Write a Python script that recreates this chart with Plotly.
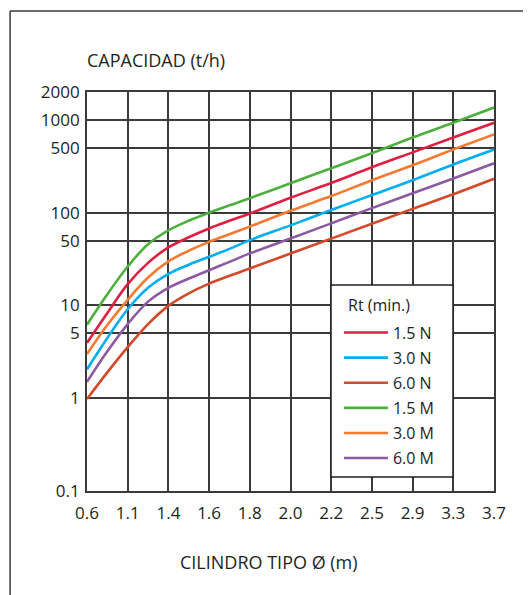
import plotly.graph_objects as go

# Cylinder type (m) tick categories, evenly spaced on the axis
categories = ["0.6", "1.1", "1.4", "1.6", "1.8", "2.0", "2.2", "2.5", "2.9", "3.3", "3.7"]
# sample positions along the category axis (category index; half steps in the curved part)
sample_pos = [0, 0.5, 1, 1.5, 2, 2.5, 3, 3.5, 4, 5, 6, 7, 8, 9, 10]

# Capacity (t/h)
cap_15N = [3.95, 8.3, 17, 28.8, 42.2, 54.3, 67.6, 81.7, 98, 145, 209, 309, 447, 646, 931]
cap_30N = [2.05, 4.47, 9.1, 15.5, 21.9, 27.5, 33.5, 40.7, 50.6, 73, 107, 155, 224, 331, 479]
cap_60N = [0.98, 1.9, 3.55, 6.3, 9.9, 13.5, 17.2, 20.9, 25, 36.4, 52.5, 76, 110, 158, 232]
cap_15M = [6.2, 13.2, 26.3, 45.7, 64.5, 82, 100, 120, 143, 208, 302, 437, 646, 933, 1360]
cap_30M = [3.0, 6.17, 11.5, 20, 29.9, 38.9, 48.5, 58.6, 70.8, 105, 151, 224, 324, 479, 697]
cap_60M = [1.5, 3.2, 6.3, 11, 15.5, 19.5, 24, 29.5, 36.4, 52.7, 76.7, 112, 162, 234, 341]

series_names = ["1.5 N", "3.0 N", "6.0 N", "1.5 M", "3.0 M", "6.0 M"]
series_vals = [cap_15N, cap_30N, cap_60N, cap_15M, cap_30M, cap_60M]
series_colors = ["#DF1F41", "#00AEEF", "#D24A2A", "#4DAF3D", "#F27A33", "#8D5AA2"]

y_ticks = [0.1, 1, 5, 10, 50, 100, 500, 1000, 2000]
y_ticktext = ["0.1", "1", "5", "10", "50", "100", "500", "1000", "2000"]

FONT = "Open Sans"
INK = "#231F20"
GRID = "#3a3a3a"

fig = go.Figure()
for name, vals, col in zip(series_names, series_vals, series_colors):
    fig.add_trace(go.Scatter(
        x=sample_pos, y=vals, name=name, mode="lines", legendgroup=name,
        line=dict(color=col, width=2.6, shape="spline", smoothing=1.0),
    ))

fig.update_layout(
    width=523, height=587,
    margin=dict(l=79, r=37, t=84, b=104),
    paper_bgcolor="white", plot_bgcolor="white",
    font=dict(family=FONT, size=16, color=INK),
    showlegend=True,
    legend=dict(
        x=0.619, y=0.4395, xanchor="left", yanchor="top",
        bgcolor="rgba(0,0,0,0)", borderwidth=0,
        font=dict(size=16), tracegroupgap=1.3, itemwidth=44,
    ),
    xaxis=dict(
        range=[0, 10], tickmode="array",
        tickvals=list(range(len(categories))), ticktext=categories,
        showgrid=True, gridcolor=GRID, gridwidth=1.5,
        showline=True, mirror=True, linecolor=GRID, linewidth=1.8,
        zeroline=False, ticks="", tickfont=dict(size=17), ticklabelstandoff=6,
    ),
    yaxis=dict(
        type="log", range=[-1, 3.30103], tickmode="array",
        tickvals=y_ticks, ticktext=y_ticktext,
        showgrid=True, gridcolor=GRID, gridwidth=1.5,
        showline=True, mirror=True, linecolor=GRID, linewidth=1.8,
        zeroline=False, ticks="", tickfont=dict(size=17), ticklabelstandoff=2,
    ),
    annotations=[
        dict(text="CAPACIDAD (t/h)", xref="paper", yref="paper",
             x=-0.005, y=1.08, xanchor="left", yanchor="middle",
             showarrow=False, font=dict(size=18)),
        dict(text="CILINDRO TIPO Ø (m)", xref="paper", yref="paper",
             x=0.447, y=-0.177, xanchor="center", yanchor="middle",
             showarrow=False, font=dict(size=18)),
        dict(text="Rt (min.)", xref="paper", yref="paper",
             x=(346 - 87) / 407, y=(491 - 305) / 399, xanchor="left", yanchor="middle",
             showarrow=False, font=dict(size=16)),
    ],
    shapes=[
        dict(type="rect", xref="paper", yref="paper", layer="above",
             x0=(331 - 87) / 407, x1=(453 - 87) / 407,
             y0=(491 - 477) / 399, y1=(491 - 285) / 399,
             fillcolor="white", line=dict(color=INK, width=1.5)),
        dict(type="line", xref="paper", yref="paper", x0=-0.189, x1=1.2, y0=1.203, y1=1.203,
             line=dict(color=GRID, width=1.5)),
        dict(type="line", xref="paper", yref="paper", x0=-0.189, x1=-0.189, y0=-0.3, y1=1.203,
             line=dict(color=GRID, width=1.5)),
    ],
)

fig.write_html("out.html")
